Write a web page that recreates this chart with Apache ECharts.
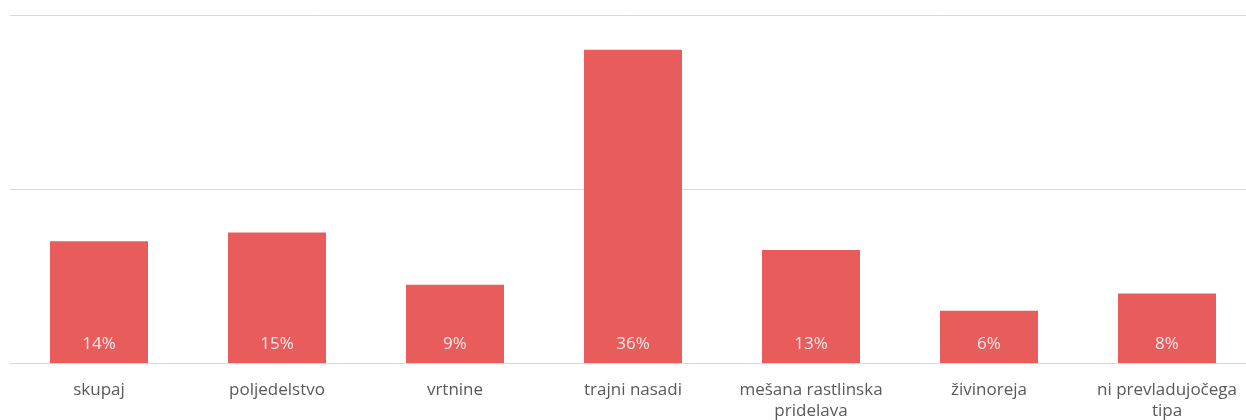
<!DOCTYPE html>
<html>
<head>
<meta charset="utf-8">
<script src="https://cdn.jsdelivr.net/npm/echarts@6/dist/echarts.min.js"></script>
<style>
  html, body { margin: 0; padding: 0; background: #ffffff; }
  #chart { width: 1246px; height: 420px; }
</style>
</head>
<body>
<div id="chart"></div>
<script>
// Share of farms by prevailing production type (%)
const categories = [
  'skupaj',
  'poljedelstvo',
  'vrtnine',
  'trajni nasadi',
  'mešana rastlinska\npridelava',
  'živinoreja',
  'ni prevladujočega\ntipa'
];
const shares = [14, 15, 9, 36, 13, 6, 8];

const chart = echarts.init(document.getElementById('chart'), null, { renderer: 'canvas' });

chart.setOption({
  animation: false,
  backgroundColor: '#ffffff',
  // plot area runs a little past the right edge of the canvas
  grid: {
    left: 10, top: 15, width: 1246, height: 348,
    containLabel: false,
    outerBoundsMode: 'none'
  },
  xAxis: {
    type: 'category',
    data: categories,
    axisLine: { show: true, lineStyle: { color: '#d9d9d9', width: 1 } },
    axisTick: { show: false },
    axisLabel: {
      color: '#595959',
      fontFamily: 'Open Sans',
      fontSize: 17,
      lineHeight: 21,
      margin: 17,
      interval: 0
    }
  },
  yAxis: {
    type: 'value',
    min: 0,
    max: 40,
    interval: 20,
    axisLabel: { show: false },
    axisLine: { show: false },
    axisTick: { show: false },
    splitLine: { lineStyle: { color: '#d9d9d9', width: 1 } }
  },
  series: [{
    type: 'bar',
    data: shares,
    barWidth: 98,
    itemStyle: { color: '#e85c5c' },
    label: {
      show: true,
      position: 'insideBottom',
      distance: 10,
      color: '#fbeaea',
      fontFamily: 'Open Sans',
      fontSize: 17,
      formatter: p => p.value + '%'
    }
  }]
});
</script>
</body>
</html>
